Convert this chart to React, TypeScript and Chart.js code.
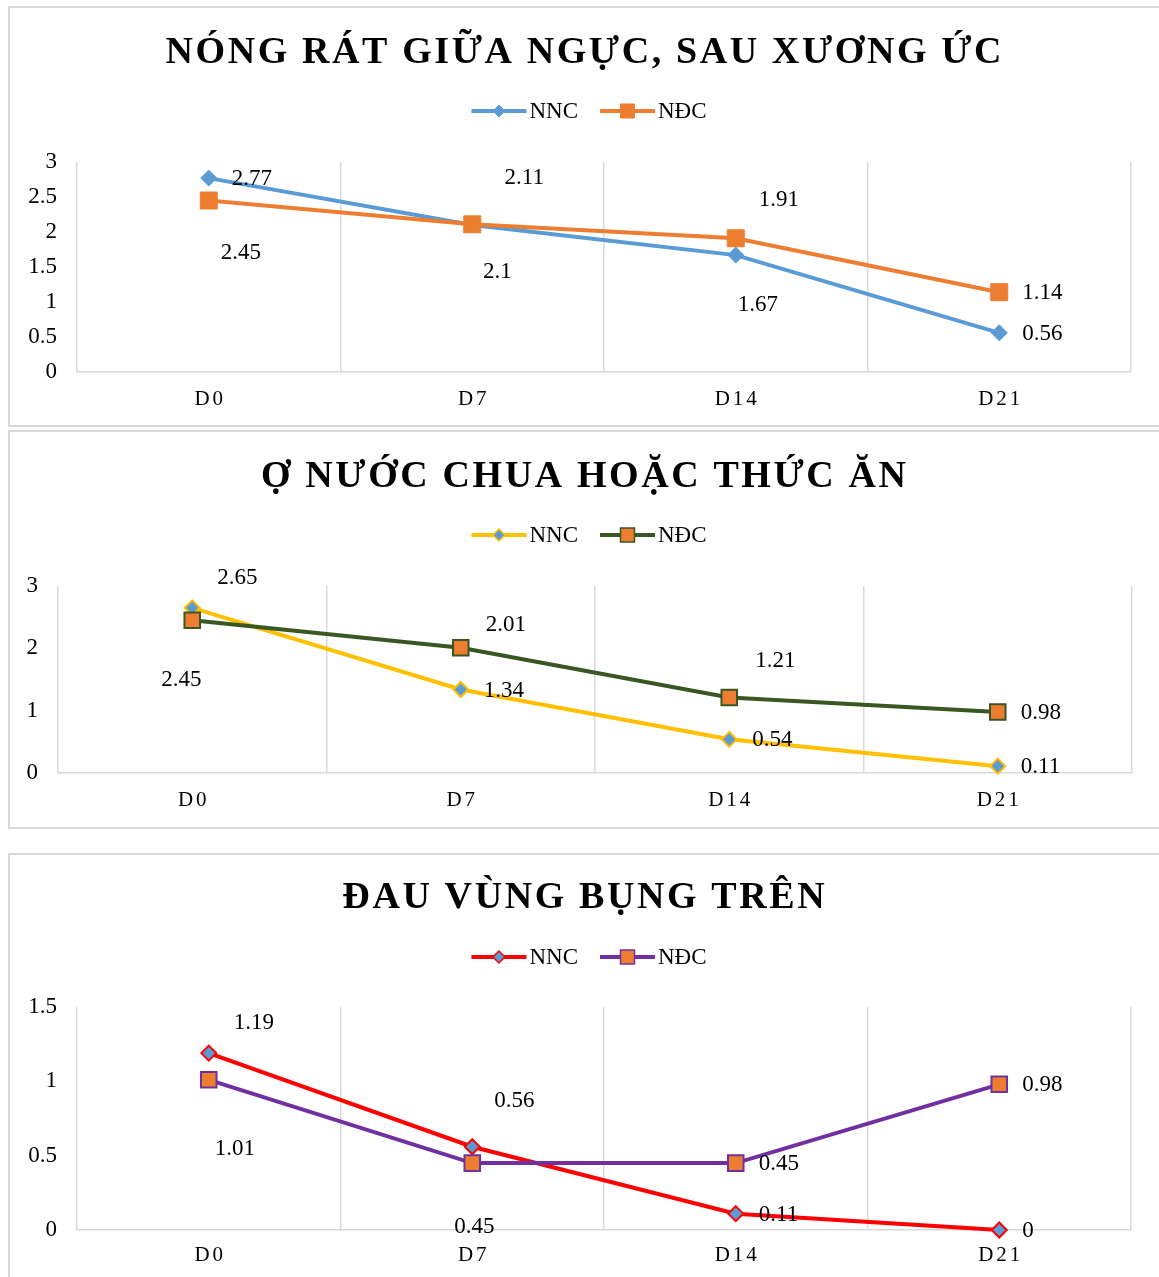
import React, { useEffect, useRef } from 'react';
import { Chart, registerables } from 'chart.js';

Chart.register(...registerables);

// ---- data -------------------------------------------------------------
const categories = ['D0', 'D7', 'D14', 'D21'];
const seriesNames = ['NNC', 'NĐC'];

const heartburnTitle = 'NÓNG RÁT GIỮA NGỰC, SAU XƯƠNG ỨC';
const heartburnNNC = [2.77, 2.1, 1.67, 0.56];
const heartburnNDC = [2.45, 2.11, 1.91, 1.14];

const regurgTitle = 'Ợ NƯỚC CHUA HOẶC THỨC ĂN';
const regurgNNC = [2.65, 1.34, 0.54, 0.11];
const regurgNDC = [2.45, 2.01, 1.21, 0.98];

const epigastricTitle = 'ĐAU VÙNG BỤNG TRÊN';
const epigastricNNC = [1.19, 0.56, 0.11, 0];
const epigastricNDC = [1.01, 0.45, 0.45, 0.98];

// y-axis ranges: [max, step]
const heartburnAxis = [3, 0.5];
const regurgAxis = [3, 1];
const epigastricAxis = [1.5, 0.5];

// ---- label placement (relative to each point) --------------------------
// 'r' = to the right of the point, otherwise [dx, dy] of the label centre
type Nudge = 'r' | [number, number];
const heartburnNudgeNNC: Nudge[] = ['r', [25, 47], [22, 50], 'r'];
const heartburnNudgeNDC: Nudge[] = [[32, 52], [52, -46], [43, -38], 'r'];
const regurgNudgeNNC: Nudge[] = [[45, -30], 'r', 'r', 'r'];
const regurgNudgeNDC: Nudge[] = [[-11, 60], [45, -23], [46, -37], 'r'];
const epigastricNudgeNNC: Nudge[] = [[45, -30], [42, -46], 'r', 'r'];
const epigastricNudgeNDC: Nudge[] = [[26, 69], [2, 64], 'r', 'r'];

// ---- styling ----------------------------------------------------------
const SERIF = '"Liberation Serif", "Times New Roman", serif';
const GRID = '#d9d9d9';
const BLUE = '#5b9bd5';
const ORANGE = '#ed7d31';

interface Spec {
  title: string;
  nnc: number[];
  ndc: number[];
  axis: number[];
  nudges: Nudge[][];
  nncLine: string;
  nncFill: string;
  ndcLine: string;
  ndcFill: string;
  edge: number;
  diamondR: number;
  squareR: number;
  plotTop: number;
  padRight: number;
  axisWidth: number;
  axisHeight: number;
  titleBaseline: number;
  legendY: number;
  xLabelGap: number;
}

const TITLE_CX = 573.5;
const LEGEND_CX = 579;

const decorPlugin = {
  id: 'decor',
  afterDraw(chart: any, _args: any, opts: any) {
    const ctx: CanvasRenderingContext2D = chart.ctx;
    const area = chart.chartArea;

    // title
    ctx.save();
    ctx.font = `bold 38px ${SERIF}`;
    (ctx as any).letterSpacing = '2.6px';
    ctx.fillStyle = '#000';
    ctx.textAlign = 'center';
    ctx.textBaseline = 'alphabetic';
    ctx.fillText(opts.title, TITLE_CX + 1.3, opts.titleBaseline);
    ctx.restore();

    // legend: line with marker, then name
    ctx.save();
    ctx.font = `23px ${SERIF}`;
    ctx.textBaseline = 'middle';
    ctx.textAlign = 'left';
    const lineLen = 55;
    const textGap = 3;
    const itemGap = 22;
    const items = chart.data.datasets.map((ds: any) => ({
      ds,
      w: ctx.measureText(ds.label).width,
    }));
    let total = 0;
    items.forEach((it: any, i: number) => {
      total += lineLen + textGap + it.w + (i ? itemGap : 0);
    });
    let x = LEGEND_CX - total / 2;
    const y = opts.legendY;
    items.forEach((it: any) => {
      const ds = it.ds;
      ctx.strokeStyle = ds.borderColor;
      ctx.lineWidth = 4;
      ctx.beginPath();
      ctx.moveTo(x, y);
      ctx.lineTo(x + lineLen, y);
      ctx.stroke();
      const mx = x + lineLen / 2;
      ctx.fillStyle = ds.pointBackgroundColor;
      ctx.strokeStyle = ds.pointBorderColor;
      ctx.lineWidth = Math.min(ds.pointBorderWidth, 1.5);
      ctx.beginPath();
      if (ds.pointStyle === 'rectRot') {
        const r = 6;
        ctx.moveTo(mx, y - r);
        ctx.lineTo(mx + r, y);
        ctx.lineTo(mx, y + r);
        ctx.lineTo(mx - r, y);
        ctx.closePath();
      } else {
        const h = 7;
        ctx.rect(mx - h, y - h, 2 * h, 2 * h);
      }
      ctx.fill();
      ctx.stroke();
      ctx.fillStyle = '#000';
      ctx.fillText(ds.label, x + lineLen + textGap, y + 1);
      x += lineLen + textGap + it.w + itemGap;
    });
    ctx.restore();

    // category labels under the axis
    ctx.save();
    ctx.font = `21px ${SERIF}`;
    (ctx as any).letterSpacing = '3px';
    ctx.fillStyle = '#000';
    ctx.textAlign = 'center';
    ctx.textBaseline = 'middle';
    const xs = chart.scales.x;
    chart.data.labels.forEach((lab: string, i: number) => {
      ctx.fillText(lab, xs.getPixelForTick(i) + 1.5, area.bottom + opts.xLabelGap);
    });
    ctx.restore();

    // value labels
    ctx.save();
    ctx.font = `23px ${SERIF}`;
    ctx.fillStyle = '#000';
    ctx.textBaseline = 'middle';
    chart.data.datasets.forEach((ds: any, di: number) => {
      const meta = chart.getDatasetMeta(di);
      meta.data.forEach((pt: any, i: number) => {
        const n: Nudge = opts.nudges[di][i];
        const txt = String(ds.data[i]);
        if (n === 'r') {
          ctx.textAlign = 'left';
          ctx.fillText(txt, pt.x + 23, pt.y + 1);
        } else {
          ctx.textAlign = 'center';
          ctx.fillText(txt, pt.x + n[0], pt.y + n[1]);
        }
      });
    });
    ctx.restore();
  },
};

function buildConfig(spec: Spec): any {
  return {
    type: 'line',
    data: {
      labels: categories,
      datasets: [
        {
          label: seriesNames[0],
          data: spec.nnc,
          borderColor: spec.nncLine,
          backgroundColor: spec.nncFill,
          pointBackgroundColor: spec.nncFill,
          pointBorderColor: spec.nncLine,
          pointBorderWidth: spec.edge,
          pointStyle: 'rectRot',
          pointRadius: spec.diamondR,
          borderWidth: 4,
          tension: 0,
          clip: false,
          order: 1,
        },
        {
          label: seriesNames[1],
          data: spec.ndc,
          borderColor: spec.ndcLine,
          backgroundColor: spec.ndcFill,
          pointBackgroundColor: spec.ndcFill,
          pointBorderColor: spec.ndcLine,
          pointBorderWidth: spec.edge,
          pointStyle: 'rect',
          pointRadius: spec.squareR,
          borderWidth: 4,
          tension: 0,
          clip: false,
          order: 0,
        },
      ],
    },
    options: {
      responsive: false,
      animation: false,
      devicePixelRatio: 1,
      events: [],
      layout: { padding: { top: spec.plotTop, right: spec.padRight, left: 0, bottom: 0 } },
      plugins: {
        legend: { display: false },
        title: { display: false },
        tooltip: { enabled: false },
        decor: {
          title: spec.title,
          titleBaseline: spec.titleBaseline,
          legendY: spec.legendY,
          xLabelGap: spec.xLabelGap,
          nudges: spec.nudges,
        },
      },
      scales: {
        x: {
          offset: true,
          grid: { offset: true, color: GRID, lineWidth: 1.5, drawTicks: false },
          border: { display: true, color: GRID, width: 1.5 },
          ticks: { display: false },
          afterFit: (s: any) => {
            s.height = spec.axisHeight;
          },
        },
        y: {
          min: 0,
          max: spec.axis[0],
          ticks: {
            stepSize: spec.axis[1],
            font: { family: SERIF, size: 23 },
            color: '#000',
            padding: 20,
            callback: (v: number | string) => String(Number(v)),
          },
          grid: { display: false, drawTicks: false },
          border: { display: false },
          afterFit: (s: any) => {
            s.width = spec.axisWidth;
          },
        },
      },
    },
    plugins: [decorPlugin],
  };
}

const specs: { spec: Spec; top: number; height: number }[] = [
  {
    top: 6,
    height: 421,
    spec: {
      title: heartburnTitle,
      nnc: heartburnNNC,
      ndc: heartburnNDC,
      axis: heartburnAxis,
      nudges: [heartburnNudgeNNC, heartburnNudgeNDC],
      nncLine: BLUE,
      nncFill: BLUE,
      ndcLine: ORANGE,
      ndcFill: ORANGE,
      edge: 1,
      diamondR: 8,
      squareR: 12,
      plotTop: 154,
      padRight: 40,
      axisWidth: 67,
      axisHeight: 53,
      titleBaseline: 55,
      legendY: 103,
      xLabelGap: 27,
    },
  },
  {
    top: 430,
    height: 399,
    spec: {
      title: regurgTitle,
      nnc: regurgNNC,
      ndc: regurgNDC,
      axis: regurgAxis,
      nudges: [regurgNudgeNNC, regurgNudgeNDC],
      nncLine: '#ffc000',
      nncFill: BLUE,
      ndcLine: '#385723',
      ndcFill: ORANGE,
      edge: 2,
      diamondR: 7.5,
      squareR: 11,
      plotTop: 154,
      padRight: 39,
      axisWidth: 48,
      axisHeight: 54,
      titleBaseline: 55,
      legendY: 103,
      xLabelGap: 27,
    },
  },
  {
    top: 853,
    height: 440,
    spec: {
      title: epigastricTitle,
      nnc: epigastricNNC,
      ndc: epigastricNDC,
      axis: epigastricAxis,
      nudges: [epigastricNudgeNNC, epigastricNudgeNDC],
      nncLine: '#ff0000',
      nncFill: BLUE,
      ndcLine: '#7030a0',
      ndcFill: ORANGE,
      edge: 2,
      diamondR: 7.5,
      squareR: 11,
      plotTop: 152,
      padRight: 40,
      axisWidth: 67,
      axisHeight: 61,
      titleBaseline: 53,
      legendY: 102,
      xLabelGap: 25,
    },
  },
];

function ChartBox({ spec, top, height }: { spec: Spec; top: number; height: number }) {
  const ref = useRef<HTMLCanvasElement>(null);
  useEffect(() => {
    const chart = new Chart(ref.current as HTMLCanvasElement, buildConfig(spec));
    return () => chart.destroy();
  }, [spec]);
  const innerH = height - 4;
  return (
    <div
      style={{
        position: 'absolute',
        left: 8,
        top,
        width: 1200,
        height,
        border: `2px solid ${GRID}`,
        boxSizing: 'border-box',
        background: '#fff',
      }}
    >
      <canvas ref={ref} width={1161} height={innerH} style={{ display: 'block', width: 1161, height: innerH }} />
    </div>
  );
}

export default function App() {
  return (
    <div
      style={{
        position: 'fixed',
        left: 0,
        top: 0,
        width: 1159,
        height: 1277,
        overflow: 'hidden',
        background: '#fff',
      }}
    >
      {specs.map((s, i) => (
        <ChartBox key={i} spec={s.spec} top={s.top} height={s.height} />
      ))}
    </div>
  );
}
